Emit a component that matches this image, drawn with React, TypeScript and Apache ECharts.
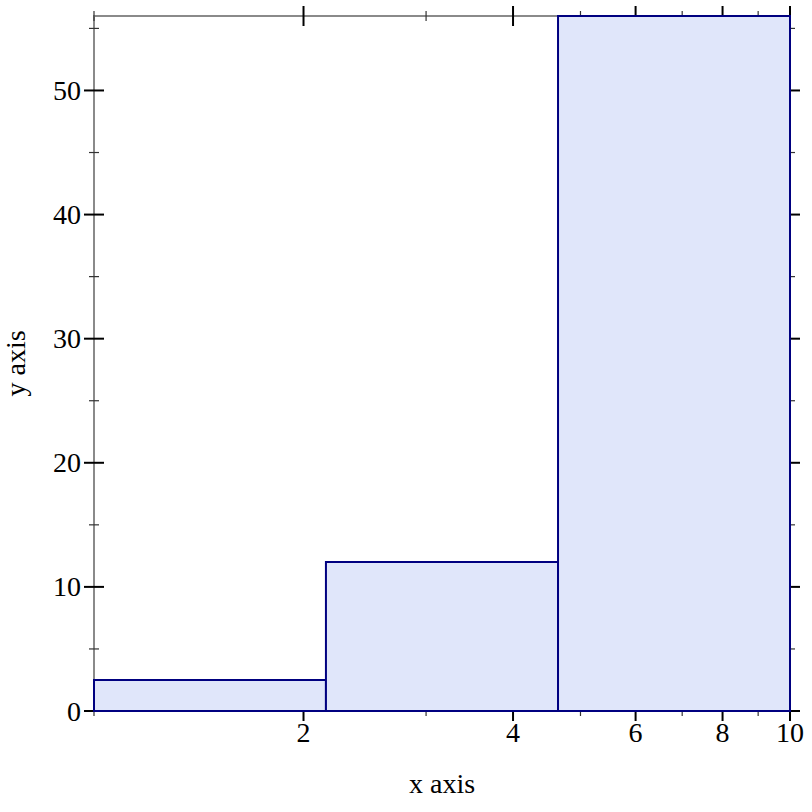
import React, { useEffect, useRef } from 'react';
import * as echarts from 'echarts';

// histogram bins (x on a log10 scale)
const binEdges = [1, 2.154, 4.642, 10];
const binHeights = [2.5, 12, 56];

// tick values
const xMajorTicks = [2, 4, 6, 8, 10];
const xMinorTicks = [1, 3, 5, 7, 9];
const yMajorTicks = [0, 10, 20, 30, 40, 50];
const yMinorTicks = [5, 15, 25, 35, 45, 55];

const xMin = 1;
const xMax = 10;
const yMin = 0;
const yMax = 56;

const xTitle = 'x axis';
const yTitle = 'y axis';

export default function App() {
  const ref = useRef<HTMLDivElement>(null);

  useEffect(() => {
    document.body.style.margin = '0';
    const chart = echarts.init(ref.current!, null, { renderer: 'svg' });
    const lg = (v: number) => Math.log10(v);
    const font = "'Liberation Serif', 'Times New Roman', serif";
    const FS = 28;

    const barData = binHeights.map((h, i) => [lg(binEdges[i]), lg(binEdges[i + 1]), h]);

    // [x, y, halfLength, orientation(0 vertical,1 horizontal), major(1)/minor(0)]
    const tickData: number[][] = [];
    xMajorTicks.forEach((v) => {
      tickData.push([lg(v), yMin, 10, 0, 1]);
      tickData.push([lg(v), yMax, 10, 0, 1]);
    });
    xMinorTicks.forEach((v) => {
      tickData.push([lg(v), yMin, 5, 0, 0]);
      tickData.push([lg(v), yMax, 5, 0, 0]);
    });
    yMajorTicks.forEach((v) => {
      tickData.push([lg(xMin), v, 10, 1, 1]);
      tickData.push([lg(xMax), v, 10, 1, 1]);
    });
    yMinorTicks.forEach((v) => {
      tickData.push([lg(xMin), v, 5, 1, 0]);
      tickData.push([lg(xMax), v, 5, 1, 0]);
    });

    const option: any = {
      animation: false,
      backgroundColor: '#ffffff',
      grid: {
        left: 94,
        top: 16,
        width: 696,
        height: 695,
        containLabel: false,
        outerBoundsMode: 'none',
      },
      xAxis: [
        {
          type: 'value',
          position: 'bottom',
          min: lg(xMin),
          max: lg(xMax),
          splitLine: { show: false },
          axisTick: { show: false },
          axisLine: { show: true, onZero: false, lineStyle: { color: '#000000', width: 2 } },
          axisLabel: {
            show: true,
            customValues: xMajorTicks.map(lg),
            formatter: (v: number) => String(Math.round(Math.pow(10, v))),
            color: '#000',
            fontFamily: font,
            fontSize: FS,
            margin: 7,
            showMaxLabel: true,
            showMinLabel: true,
          },
          name: xTitle,
          nameLocation: 'middle',
          nameGap: 58,
          nameTextStyle: { color: '#000', fontFamily: font, fontSize: FS },
        },
        {
          type: 'value',
          position: 'top',
          min: lg(xMin),
          max: lg(xMax),
          splitLine: { show: false },
          axisTick: { show: false },
          axisLabel: { show: false },
          axisLine: { show: true, onZero: false, lineStyle: { color: '#8a8a8a', width: 2 } },
        },
      ],
      yAxis: [
        {
          type: 'value',
          position: 'left',
          min: yMin,
          max: yMax,
          interval: 10,
          splitLine: { show: false },
          axisTick: { show: false },
          axisLine: { show: true, onZero: false, lineStyle: { color: '#8a8a8a', width: 2 } },
          axisLabel: {
            show: true,
            customValues: yMajorTicks,
            color: '#000',
            fontFamily: font,
            fontSize: FS,
            margin: 13,
          },
          name: yTitle,
          nameLocation: 'middle',
          nameRotate: 90,
          nameGap: 65,
          nameTextStyle: { color: '#000', fontFamily: font, fontSize: FS },
        },
        {
          type: 'value',
          position: 'right',
          min: yMin,
          max: yMax,
          interval: 10,
          splitLine: { show: false },
          axisTick: { show: false },
          axisLabel: { show: false },
          axisLine: { show: true, onZero: false, lineStyle: { color: '#000000', width: 2 } },
        },
      ],
      series: [
        {
          type: 'custom',
          name: 'ticks',
          xAxisIndex: 0,
          yAxisIndex: 0,
          clip: false,
          z: 1,
          silent: true,
          data: tickData,
          encode: { x: 0, y: 1 },
          renderItem: (params: any, api: any) => {
            const p = api.coord([api.value(0), api.value(1)]);
            const L = api.value(2);
            const o = api.value(3);
            const major = api.value(4) === 1;
            const shape =
              o === 0
                ? { x1: p[0], y1: p[1] - L, x2: p[0], y2: p[1] + L }
                : { x1: p[0] - L, y1: p[1], x2: p[0] + L, y2: p[1] };
            return {
              type: 'line',
              shape,
              style: { stroke: major ? '#000000' : '#333333', lineWidth: major ? 2 : 1.2 },
            };
          },
        },
        {
          type: 'custom',
          name: 'histogram',
          xAxisIndex: 0,
          yAxisIndex: 0,
          clip: false,
          z: 3,
          data: barData,
          encode: { x: [0, 1], y: 2 },
          renderItem: (params: any, api: any) => {
            const p0 = api.coord([api.value(0), 0]);
            const p1 = api.coord([api.value(1), api.value(2)]);
            return {
              type: 'rect',
              shape: {
                x: p0[0],
                y: p1[1],
                width: p1[0] - p0[0],
                height: p0[1] - p1[1],
              },
              style: { fill: '#e0e6fa', stroke: '#000080', lineWidth: 2 },
            };
          },
        },
      ],
    };

    chart.setOption(option);
    return () => {
      chart.dispose();
    };
  }, []);

  return (
    <div
      ref={ref}
      style={{ position: 'absolute', left: 0, top: 0, width: 812, height: 812 }}
    />
  );
}
